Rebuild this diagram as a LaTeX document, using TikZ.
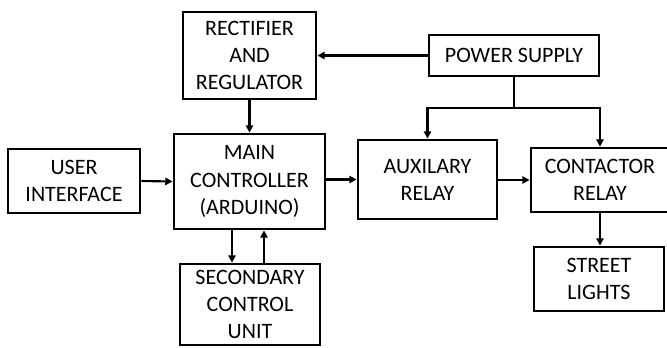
\documentclass[tikz,border=0pt]{standalone}
\usepackage{fontspec}
\setmainfont{Carlito}
\usetikzlibrary{arrows.meta}
\begin{document}
\begin{tikzpicture}[x=0.75pt,y=-0.75pt,
  blk/.style={draw,line width=2.1pt,align=center,font=\fontsize{16.5}{20.3}\selectfont,inner sep=0pt},
  con/.style={line width=1.6pt},
  arr/.style={con,-{Triangle[length=5.5pt,width=5.5pt]}}]
\useasboundingbox (0,0) rectangle (667,347);
\node[blk,minimum width=133*0.75pt,minimum height=87*0.75pt] (rect) at (249.5,55.5) {RECTIFIER\\AND\\REGULATOR};
\node[blk,minimum width=170*0.75pt,minimum height=41*0.75pt] (power) at (514,55.5) {POWER SUPPLY};
\node[blk,minimum width=151*0.75pt,minimum height=95*0.75pt] (main) at (249.5,181.5) {MAIN\\CONTROLLER\\(ARDUINO)};
\node[blk,minimum width=132*0.75pt,minimum height=64*0.75pt] (ui) at (74,181) {USER\\INTERFACE};
\node[blk,minimum width=139*0.75pt,minimum height=79*0.75pt] (aux) at (427.5,179.5) {AUXILARY\\RELAY};
\node[blk,minimum width=138*0.75pt,minimum height=64*0.75pt] (cont) at (600,180) {CONTACTOR\\RELAY};
\node[blk,minimum width=130*0.75pt,minimum height=64*0.75pt] (street) at (599,279) {STREET\\LIGHTS};
\node[blk,minimum width=140*0.75pt,minimum height=81*0.75pt] (sec) at (250,304.5) {SECONDARY\\CONTROL\\UNIT};
\coordinate (j) at (514,108);
\draw[arr] (power.west) -- (rect.east);
\draw[con] (power.south) -- (j);
\draw[arr] (j) -| (aux.north);
\draw[arr] (j) -| (cont.north);
\draw[arr] (rect.south) -- (main.north);
\draw[arr] (ui.east) -- (main.west);
\draw[arr] (main.east |- aux.west) -- (aux.west);
\draw[arr] (aux.east |- cont.west) -- (cont.west);
\draw[arr] (cont.south) -- (cont.south |- street.north);
\draw[arr] (main.south -| 232,0) -- (sec.north -| 232,0);
\draw[arr] (sec.north -| 264,0) -- (main.south -| 264,0);
\end{tikzpicture}
\end{document}
